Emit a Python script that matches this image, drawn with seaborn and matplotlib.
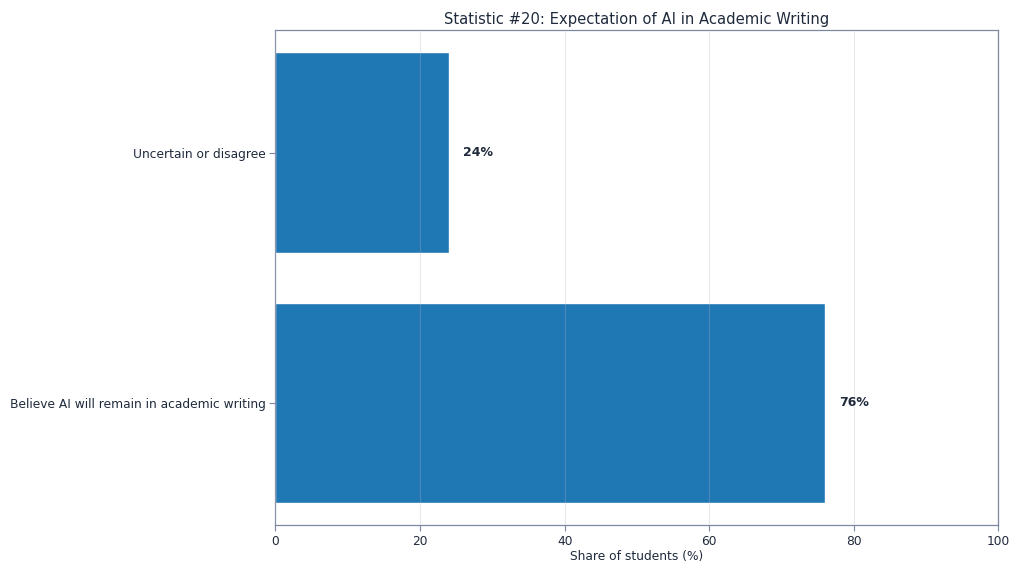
import matplotlib
matplotlib.use("Agg")
import matplotlib.pyplot as plt
import seaborn as sns
import pandas as pd

categories = ["Uncertain or disagree", "Believe AI will remain in academic writing"]
shares = [24, 76]
labels = ["24%", "76%"]

df = pd.DataFrame({"category": categories, "share": shares})

sns.set_style("white")
plt.rcParams["font.family"] = "sans-serif"
plt.rcParams["font.sans-serif"] = ["DejaVu Sans"]
text_color = "#1f2a3c"
spine_color = "#7b88a0"

fig, ax = plt.subplots(figsize=(10.24, 5.76), dpi=100)
sns.barplot(data=df, x="share", y="category", orient="h", color="#1f77b4",
            saturation=1, width=0.8, ax=ax)

# grid over the bars, very faint
ax.set_axisbelow(False)
ax.grid(axis="x", color="#b0b8c8", alpha=0.3, linewidth=0.8)
ax.grid(axis="y", visible=False)

for i, (v, lab) in enumerate(zip(shares, labels)):
    ax.text(v + 2, i, lab, va="center", ha="left", fontsize=9,
            fontweight="bold", color=text_color, family="DejaVu Sans")

ax.set_xlim(0, 100)
ax.set_ylim(1.49, -0.49)
ax.set_title("Statistic #20: Expectation of AI in Academic Writing",
             fontsize=10.6, color=text_color, pad=4, family="DejaVu Sans")
ax.set_xlabel("Share of students (%)", fontsize=8.8, color=text_color,
              family="DejaVu Sans", labelpad=1.5)
ax.set_ylabel("")
ax.tick_params(axis="both", labelsize=8.8, colors=text_color, length=4,
               color=spine_color, left=True, bottom=True, pad=3)
for lab in ax.get_xticklabels() + ax.get_yticklabels():
    lab.set_family("DejaVu Sans")
for s in ax.spines.values():
    s.set_color(spine_color)
    s.set_linewidth(0.9)

plt.subplots_adjust(left=0.269, right=0.975, top=0.948, bottom=0.088)
plt.savefig("out.png", dpi=100)
plt.close()
